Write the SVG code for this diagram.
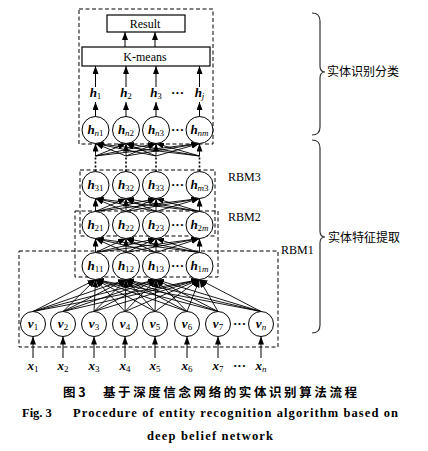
<svg xmlns="http://www.w3.org/2000/svg" width="428" height="451" viewBox="0 0 428 451">
<style>
.bx{fill:none;stroke:#000;stroke-width:1;stroke-dasharray:4,2.5}
.nd{fill:#fff;stroke:#000;stroke-width:1}
.rc{fill:#fff;stroke:#000;stroke-width:1.2}
.c{stroke:#000;stroke-width:0.9;marker-end:url(#ah)}
.a{stroke:#000;stroke-width:1;marker-end:url(#ah)}
.dt{stroke:#000;stroke-width:1.6;stroke-dasharray:2,2}
.br{fill:none;stroke:#333;stroke-width:1.2}
.lb{font-family:"Liberation Serif",serif;font-weight:bold;font-style:italic;font-size:13px;text-anchor:middle}
.sb{font-weight:normal;font-style:normal;font-size:9px}
.it{font-style:italic}
.tx{font-family:"Liberation Serif",serif;font-size:12px;text-anchor:middle}
.rb{font-family:"Liberation Serif",serif;font-size:12px}
.el{font-family:"Liberation Serif",serif;font-size:13px;font-weight:bold;text-anchor:middle}
.cn{font-family:"Liberation Serif","Noto Sans CJK SC",serif;font-size:12px}
.cap{font-family:"Noto Sans CJK SC",sans-serif;font-size:12.5px;font-weight:bold}
.en{font-family:"Liberation Serif",serif;font-size:12.5px;font-weight:bold}
</style>
<defs>
<marker id="ah" viewBox="0 0 8 6" refX="8" refY="3" markerWidth="8" markerHeight="6" markerUnits="userSpaceOnUse" orient="auto"><path d="M0,0 L8,3 L0,6 z" fill="#000"/></marker>
</defs>

<g id="boxes">
<rect class="bx" x="79" y="9" width="134" height="135"/>
<rect class="bx" x="80" y="170" width="135" height="66"/>
<rect class="bx" x="75" y="211" width="143" height="66"/>
<rect class="bx" x="19" y="251" width="259" height="96"/>
</g>

<g id="connectors">
<line class="a" x1="125" y1="47" x2="125" y2="32"/>
<line class="a" x1="155" y1="47" x2="155" y2="32"/>
<line class="a" x1="95.5" y1="87" x2="95.5" y2="66"/>
<line class="a" x1="126" y1="87" x2="126" y2="66"/>
<line class="a" x1="156" y1="87" x2="156" y2="66"/>
<line class="a" x1="199.5" y1="87" x2="199.5" y2="66"/>
<line class="a" x1="95.5" y1="116.5" x2="95.5" y2="102"/>
<line class="a" x1="126" y1="116.5" x2="126" y2="102"/>
<line class="a" x1="156" y1="116.5" x2="156" y2="102"/>
<line class="a" x1="199.5" y1="116.5" x2="199.5" y2="102"/>
<!-- top fan -->
<line class="c" x1="95.5" y1="156" x2="95.5" y2="143.5"/>
<line class="c" x1="95.5" y1="156" x2="126" y2="143.5"/>
<line class="c" x1="95.5" y1="156" x2="156" y2="143.5"/>
<line class="c" x1="95.5" y1="156" x2="199.5" y2="143.5"/>
<line class="c" x1="126" y1="156" x2="95.5" y2="143.5"/>
<line class="c" x1="126" y1="156" x2="126" y2="143.5"/>
<line class="c" x1="126" y1="156" x2="156" y2="143.5"/>
<line class="c" x1="126" y1="156" x2="199.5" y2="143.5"/>
<line class="c" x1="156" y1="156" x2="95.5" y2="143.5"/>
<line class="c" x1="156" y1="156" x2="126" y2="143.5"/>
<line class="c" x1="156" y1="156" x2="156" y2="143.5"/>
<line class="c" x1="156" y1="156" x2="199.5" y2="143.5"/>
<line class="c" x1="199.5" y1="156" x2="95.5" y2="143.5"/>
<line class="c" x1="199.5" y1="156" x2="126" y2="143.5"/>
<line class="c" x1="199.5" y1="156" x2="156" y2="143.5"/>
<line class="c" x1="199.5" y1="156" x2="199.5" y2="143.5"/>
<line class="dt" x1="95.5" y1="171.5" x2="95.5" y2="156"/>
<line class="dt" x1="126" y1="171.5" x2="126" y2="156"/>
<line class="dt" x1="156" y1="171.5" x2="156" y2="156"/>
<line class="dt" x1="199.5" y1="171.5" x2="199.5" y2="156"/>
<!-- h2 -> h3 -->
<line class="c" x1="95.5" y1="211.5" x2="95.5" y2="198.5"/>
<line class="c" x1="95.5" y1="211.5" x2="126" y2="198.5"/>
<line class="c" x1="95.5" y1="211.5" x2="156" y2="198.5"/>
<line class="c" x1="95.5" y1="211.5" x2="199.5" y2="198.5"/>
<line class="c" x1="126" y1="211.5" x2="95.5" y2="198.5"/>
<line class="c" x1="126" y1="211.5" x2="126" y2="198.5"/>
<line class="c" x1="126" y1="211.5" x2="156" y2="198.5"/>
<line class="c" x1="126" y1="211.5" x2="199.5" y2="198.5"/>
<line class="c" x1="156" y1="211.5" x2="95.5" y2="198.5"/>
<line class="c" x1="156" y1="211.5" x2="126" y2="198.5"/>
<line class="c" x1="156" y1="211.5" x2="156" y2="198.5"/>
<line class="c" x1="156" y1="211.5" x2="199.5" y2="198.5"/>
<line class="c" x1="199.5" y1="211.5" x2="95.5" y2="198.5"/>
<line class="c" x1="199.5" y1="211.5" x2="126" y2="198.5"/>
<line class="c" x1="199.5" y1="211.5" x2="156" y2="198.5"/>
<line class="c" x1="199.5" y1="211.5" x2="199.5" y2="198.5"/>
<!-- h1 -> h2 -->
<line class="c" x1="95.5" y1="252.5" x2="95.5" y2="238.5"/>
<line class="c" x1="95.5" y1="252.5" x2="126" y2="238.5"/>
<line class="c" x1="95.5" y1="252.5" x2="156" y2="238.5"/>
<line class="c" x1="95.5" y1="252.5" x2="199.5" y2="238.5"/>
<line class="c" x1="126" y1="252.5" x2="95.5" y2="238.5"/>
<line class="c" x1="126" y1="252.5" x2="126" y2="238.5"/>
<line class="c" x1="126" y1="252.5" x2="156" y2="238.5"/>
<line class="c" x1="126" y1="252.5" x2="199.5" y2="238.5"/>
<line class="c" x1="156" y1="252.5" x2="95.5" y2="238.5"/>
<line class="c" x1="156" y1="252.5" x2="126" y2="238.5"/>
<line class="c" x1="156" y1="252.5" x2="156" y2="238.5"/>
<line class="c" x1="156" y1="252.5" x2="199.5" y2="238.5"/>
<line class="c" x1="199.5" y1="252.5" x2="95.5" y2="238.5"/>
<line class="c" x1="199.5" y1="252.5" x2="126" y2="238.5"/>
<line class="c" x1="199.5" y1="252.5" x2="156" y2="238.5"/>
<line class="c" x1="199.5" y1="252.5" x2="199.5" y2="238.5"/>
<!-- v -> h1 -->
<line class="c" x1="33" y1="311.5" x2="95.5" y2="279.5"/>
<line class="c" x1="33" y1="311.5" x2="126" y2="279.5"/>
<line class="c" x1="33" y1="311.5" x2="156" y2="279.5"/>
<line class="c" x1="33" y1="311.5" x2="199.5" y2="279.5"/>
<line class="c" x1="63" y1="311.5" x2="95.5" y2="279.5"/>
<line class="c" x1="63" y1="311.5" x2="126" y2="279.5"/>
<line class="c" x1="63" y1="311.5" x2="156" y2="279.5"/>
<line class="c" x1="63" y1="311.5" x2="199.5" y2="279.5"/>
<line class="c" x1="94" y1="311.5" x2="95.5" y2="279.5"/>
<line class="c" x1="94" y1="311.5" x2="126" y2="279.5"/>
<line class="c" x1="94" y1="311.5" x2="156" y2="279.5"/>
<line class="c" x1="94" y1="311.5" x2="199.5" y2="279.5"/>
<line class="c" x1="125" y1="311.5" x2="95.5" y2="279.5"/>
<line class="c" x1="125" y1="311.5" x2="126" y2="279.5"/>
<line class="c" x1="125" y1="311.5" x2="156" y2="279.5"/>
<line class="c" x1="125" y1="311.5" x2="199.5" y2="279.5"/>
<line class="c" x1="155" y1="311.5" x2="95.5" y2="279.5"/>
<line class="c" x1="155" y1="311.5" x2="126" y2="279.5"/>
<line class="c" x1="155" y1="311.5" x2="156" y2="279.5"/>
<line class="c" x1="155" y1="311.5" x2="199.5" y2="279.5"/>
<line class="c" x1="187" y1="311.5" x2="95.5" y2="279.5"/>
<line class="c" x1="187" y1="311.5" x2="126" y2="279.5"/>
<line class="c" x1="187" y1="311.5" x2="156" y2="279.5"/>
<line class="c" x1="187" y1="311.5" x2="199.5" y2="279.5"/>
<line class="c" x1="218" y1="311.5" x2="95.5" y2="279.5"/>
<line class="c" x1="218" y1="311.5" x2="126" y2="279.5"/>
<line class="c" x1="218" y1="311.5" x2="156" y2="279.5"/>
<line class="c" x1="218" y1="311.5" x2="199.5" y2="279.5"/>
<line class="c" x1="261" y1="311.5" x2="95.5" y2="279.5"/>
<line class="c" x1="261" y1="311.5" x2="126" y2="279.5"/>
<line class="c" x1="261" y1="311.5" x2="156" y2="279.5"/>
<line class="c" x1="261" y1="311.5" x2="199.5" y2="279.5"/>
<!-- x -> v -->
<line class="a" x1="33" y1="358" x2="33" y2="336.5"/>
<line class="a" x1="63" y1="358" x2="63" y2="336.5"/>
<line class="a" x1="94" y1="358" x2="94" y2="336.5"/>
<line class="a" x1="125" y1="358" x2="125" y2="336.5"/>
<line class="a" x1="155" y1="358" x2="155" y2="336.5"/>
<line class="a" x1="187" y1="358" x2="187" y2="336.5"/>
<line class="a" x1="218" y1="358" x2="218" y2="336.5"/>
<line class="a" x1="261" y1="358" x2="261" y2="336.5"/>
</g>

<g id="result"><rect class="rc" x="107" y="15" width="78" height="17"/><text class="tx" x="145" y="27.5">Result</text></g>
<g id="kmeans"><rect class="rc" x="82" y="47" width="128" height="19"/><text class="tx" x="145" y="60.5">K-means</text></g>

<g id="h-out">
<text class="lb" x="95.5" y="97">h<tspan class="sb" dy="2">1</tspan></text>
<text class="lb" x="126" y="97">h<tspan class="sb" dy="2">2</tspan></text>
<text class="lb" x="156" y="97">h<tspan class="sb" dy="2">3</tspan></text>
<text class="el" x="177.5" y="97">···</text>
<text class="lb" x="199.5" y="97">h<tspan class="sb it" dy="2">j</tspan></text>
</g>

<g id="hn1"><circle class="nd" cx="95.5" cy="130" r="13.5"/><text class="lb" x="95.5" y="133.5">h<tspan class="sb" dy="2"><tspan class="it">n</tspan>1</tspan></text></g>
<g id="hn2"><circle class="nd" cx="126" cy="130" r="13.5"/><text class="lb" x="126" y="133.5">h<tspan class="sb" dy="2"><tspan class="it">n</tspan>2</tspan></text></g>
<g id="hn3"><circle class="nd" cx="156" cy="130" r="13.5"/><text class="lb" x="156" y="133.5">h<tspan class="sb" dy="2"><tspan class="it">n</tspan>3</tspan></text></g>
<text class="el" x="177.5" y="133.5">···</text>
<g id="hnm"><circle class="nd" cx="199.5" cy="130" r="13.5"/><text class="lb" x="199.5" y="133.5">h<tspan class="sb it" dy="2">nm</tspan></text></g>

<g id="h31"><circle class="nd" cx="95.5" cy="185" r="13.5"/><text class="lb" x="95.5" y="188.5">h<tspan class="sb" dy="2">31</tspan></text></g>
<g id="h32"><circle class="nd" cx="126" cy="185" r="13.5"/><text class="lb" x="126" y="188.5">h<tspan class="sb" dy="2">32</tspan></text></g>
<g id="h33"><circle class="nd" cx="156" cy="185" r="13.5"/><text class="lb" x="156" y="188.5">h<tspan class="sb" dy="2">33</tspan></text></g>
<text class="el" x="177.5" y="188.5">···</text>
<g id="hm3"><circle class="nd" cx="199.5" cy="185" r="13.5"/><text class="lb" x="199.5" y="188.5">h<tspan class="sb" dy="2"><tspan class="it">m</tspan>3</tspan></text></g>

<g id="h21"><circle class="nd" cx="95.5" cy="225" r="13.5"/><text class="lb" x="95.5" y="228.5">h<tspan class="sb" dy="2">21</tspan></text></g>
<g id="h22"><circle class="nd" cx="126" cy="225" r="13.5"/><text class="lb" x="126" y="228.5">h<tspan class="sb" dy="2">22</tspan></text></g>
<g id="h23"><circle class="nd" cx="156" cy="225" r="13.5"/><text class="lb" x="156" y="228.5">h<tspan class="sb" dy="2">23</tspan></text></g>
<text class="el" x="177.5" y="228.5">···</text>
<g id="h2m"><circle class="nd" cx="199.5" cy="225" r="13.5"/><text class="lb" x="199.5" y="228.5">h<tspan class="sb" dy="2">2<tspan class="it">m</tspan></tspan></text></g>

<g id="h11"><circle class="nd" cx="95.5" cy="266" r="13.5"/><text class="lb" x="95.5" y="269.5">h<tspan class="sb" dy="2">11</tspan></text></g>
<g id="h12"><circle class="nd" cx="126" cy="266" r="13.5"/><text class="lb" x="126" y="269.5">h<tspan class="sb" dy="2">12</tspan></text></g>
<g id="h13"><circle class="nd" cx="156" cy="266" r="13.5"/><text class="lb" x="156" y="269.5">h<tspan class="sb" dy="2">13</tspan></text></g>
<text class="el" x="177.5" y="269.5">···</text>
<g id="h1m"><circle class="nd" cx="199.5" cy="266" r="13.5"/><text class="lb" x="199.5" y="269.5">h<tspan class="sb" dy="2">1<tspan class="it">m</tspan></tspan></text></g>

<g id="v1"><circle class="nd" cx="33" cy="324" r="12.5"/><text class="lb" x="33" y="327.5">v<tspan class="sb" dy="2">1</tspan></text></g>
<g id="v2"><circle class="nd" cx="63" cy="324" r="12.5"/><text class="lb" x="63" y="327.5">v<tspan class="sb" dy="2">2</tspan></text></g>
<g id="v3"><circle class="nd" cx="94" cy="324" r="12.5"/><text class="lb" x="94" y="327.5">v<tspan class="sb" dy="2">3</tspan></text></g>
<g id="v4"><circle class="nd" cx="125" cy="324" r="12.5"/><text class="lb" x="125" y="327.5">v<tspan class="sb" dy="2">4</tspan></text></g>
<g id="v5"><circle class="nd" cx="155" cy="324" r="12.5"/><text class="lb" x="155" y="327.5">v<tspan class="sb" dy="2">5</tspan></text></g>
<g id="v6"><circle class="nd" cx="187" cy="324" r="12.5"/><text class="lb" x="187" y="327.5">v<tspan class="sb" dy="2">6</tspan></text></g>
<g id="v7"><circle class="nd" cx="218" cy="324" r="12.5"/><text class="lb" x="218" y="327.5">v<tspan class="sb" dy="2">7</tspan></text></g>
<text class="el" x="239.5" y="327.5">···</text>
<g id="vn"><circle class="nd" cx="261" cy="324" r="12.5"/><text class="lb" x="261" y="327.5">v<tspan class="sb it" dy="2">n</tspan></text></g>

<g id="x-in">
<text class="lb" x="33" y="369.5">x<tspan class="sb" dy="2">1</tspan></text>
<text class="lb" x="63" y="369.5">x<tspan class="sb" dy="2">2</tspan></text>
<text class="lb" x="94" y="369.5">x<tspan class="sb" dy="2">3</tspan></text>
<text class="lb" x="125" y="369.5">x<tspan class="sb" dy="2">4</tspan></text>
<text class="lb" x="155" y="369.5">x<tspan class="sb" dy="2">5</tspan></text>
<text class="lb" x="187" y="369.5">x<tspan class="sb" dy="2">6</tspan></text>
<text class="lb" x="218" y="369.5">x<tspan class="sb" dy="2">7</tspan></text>
<text class="el" x="239.5" y="369.5">···</text>
<text class="lb" x="261" y="369.5">x<tspan class="sb it" dy="2">n</tspan></text>
</g>

<g id="rbm-labels">
<text class="rb" x="228" y="181">RBM3</text>
<text class="rb" x="228" y="221">RBM2</text>
<text class="rb" x="281" y="254">RBM1</text>
</g>

<g id="brace-top">
<path class="br" d="M312,13 Q320,13 320,21 L320,66 Q320,72 325,72 Q320,72 320,78 L320,127 Q320,135 312,135"/>
<text class="cn" x="327" y="76">实体识别分类</text>
</g>
<g id="brace-bottom">
<path class="br" d="M312,140 Q320,140 320,148 L320,231 Q320,237 325,237 Q320,237 320,243 L320,325 Q320,333 312,333"/>
<text class="cn" x="328" y="241.5">实体特征提取</text>
</g>

<g id="caption">
<text class="cap" x="63" y="397">图 3</text>
<text class="cap" x="103" y="397" textLength="254" lengthAdjust="spacing">基于深度信念网络的实体识别算法流程</text>
<text class="en" x="22" y="417">Fig. 3</text>
<text class="en" x="73" y="417" textLength="325" lengthAdjust="spacing">Procedure of entity recognition algorithm based on</text>
<text class="en" x="147" y="440" textLength="126" lengthAdjust="spacing">deep belief network</text>
</g>
</svg>
